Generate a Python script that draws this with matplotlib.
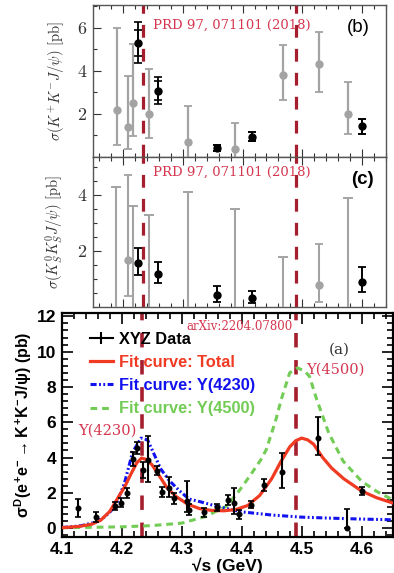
import numpy as np
import matplotlib
matplotlib.use('Agg')
import matplotlib.pyplot as plt
from matplotlib.ticker import MultipleLocator, FixedLocator, FixedFormatter
from matplotlib.lines import Line2D

plt.rcParams['mathtext.fontset'] = 'cm'
plt.rcParams['mathtext.rm'] = 'Liberation Sans:bold'
plt.rcParams['mathtext.it'] = 'Liberation Sans:bold'
plt.rcParams['mathtext.bf'] = 'Liberation Sans:bold'
plt.rcParams['mathtext.sf'] = 'Liberation Sans:bold'

# ---- panel (b): K+K- J/psi, PRD 97 071101 ----
b_gray_x = [4.190, 4.208, 4.217, 4.243, 4.308, 4.388, 4.467, 4.528, 4.576]
b_gray_y = [2.2, 1.4, 2.5, 2.0, 0.7, 0.37, 3.8, 4.3, 2.0]
b_gray_lo = [1.64, 1.03, 1.52, 1.1, 0.8, 0.5, 1.15, 1.27, 0.93]
b_gray_hi = [3.8, 2.37, 2.74, 2.08, 1.69, 1.23, 1.4, 1.5, 1.5]
b_black_x = [4.226, 4.258, 4.358, 4.416, 4.600]
b_black_y = [5.29, 3.08, 0.42, 0.95, 1.42]
b_black_lo = [0.93, 0.61, 0.14, 0.2, 0.35]
b_black_hi = [0.96, 0.62, 0.14, 0.22, 0.36]
b_stat_lo = [0.59, 0.43, 0.14, 0.2, 0.35]
b_stat_hi = [0.61, 0.47, 0.14, 0.22, 0.36]

# ---- panel (c): KS KS J/psi ----
c_gray_x = [4.208, 4.528]
c_gray_y = [1.7, 0.8]
c_gray_lo = [1.29, 0.6]
c_gray_hi = [3.0, 1.44]
c_lim_x = [4.189, 4.217, 4.243, 4.308, 4.388, 4.467, 4.576]
c_lim_top = [4.3, 3.6, 3.28, 4.1, 3.49, 1.79, 3.88]
c_black_x = [4.226, 4.258, 4.358, 4.416, 4.600]
c_black_y = [1.58, 1.19, 0.43, 0.32, 0.91]
c_black_lo = [0.42, 0.34, 0.23, 0.18, 0.38]
c_black_hi = [0.54, 0.41, 0.34, 0.24, 0.52]

# ---- panel (a): XYZ data + fit ----
a_x = [4.127, 4.157, 4.189, 4.199, 4.209, 4.219, 4.226, 4.236, 4.244, 4.258, 4.267, 4.278, 4.287,
       4.308, 4.312, 4.337, 4.358, 4.377, 4.387, 4.396, 4.416, 4.437, 4.467, 4.527, 4.575, 4.600]
a_y = [1.13, 0.62, 1.25, 1.45, 2.0, 3.9, 4.55, 3.3, 3.85, 3.25, 2.05, 2.3, 1.68,
       1.52, 1.05, 0.9, 1.18, 1.58, 1.42, 0.77, 1.33, 2.45, 3.2, 5.1, 0.03, 2.1]
a_lo = [0.5, 0.28, 0.25, 0.25, 0.3, 0.4, 0.35, 0.45, 1.25, 0.25, 0.3, 0.55, 0.3,
        0.6, 0.3, 0.25, 0.2, 0.3, 0.6, 0.25, 0.2, 0.35, 0.9, 0.95, 0.0, 0.25]
a_hi = [0.5, 0.28, 0.25, 0.25, 0.3, 0.4, 0.35, 0.45, 1.35, 0.25, 0.3, 0.6, 0.3,
        1.13, 0.3, 0.25, 0.2, 0.3, 0.85, 0.25, 0.2, 0.35, 1.07, 1.2, 1.05, 0.25]

red_x = [4.10, 4.13, 4.15, 4.165, 4.18, 4.195, 4.205, 4.215, 4.225, 4.233, 4.24, 4.25, 4.26,
         4.275, 4.29, 4.31, 4.33, 4.35, 4.37, 4.39, 4.41, 4.43, 4.45, 4.465, 4.48, 4.49, 4.5,
         4.51, 4.52, 4.535, 4.55, 4.57, 4.6, 4.625, 4.652]
red_y = [0.02, 0.1, 0.22, 0.45, 0.95, 1.8, 2.35, 3.05, 3.7, 3.97, 3.9, 3.6, 3.1,
         2.3, 1.8, 1.35, 1.1, 1.0, 0.98, 1.05, 1.28, 1.85, 2.8, 3.75, 4.6, 4.95, 5.1,
         5.0, 4.75, 4.0, 3.4, 2.8, 2.1, 1.72, 1.42]
blue_x = [4.10, 4.13, 4.155, 4.17, 4.18, 4.19, 4.204, 4.218, 4.232, 4.243, 4.251, 4.265, 4.279,
          4.296, 4.312, 4.33, 4.36, 4.4, 4.45, 4.5, 4.55, 4.6, 4.652]
blue_y = [0.03, 0.12, 0.32, 0.6, 0.9, 1.3, 2.5, 4.3, 5.1, 5.0, 4.4, 3.35, 2.7,
          2.12, 1.65, 1.5, 1.22, 0.92, 0.74, 0.62, 0.56, 0.51, 0.47]
green_x = [4.10, 4.2, 4.25, 4.3, 4.34, 4.374, 4.393, 4.413, 4.432, 4.441, 4.457, 4.466, 4.48,
           4.493, 4.505, 4.513, 4.525, 4.545, 4.569, 4.6, 4.625, 4.652]
green_y = [0.02, 0.07, 0.14, 0.28, 0.66, 1.23, 1.99, 2.93, 3.88, 4.45, 6.15, 7.3, 8.8,
           9.08, 8.9, 8.6, 7.3, 5.4, 3.8, 2.65, 2.08, 1.6]

vline_x = [4.234, 4.490]
legend_labels = ['XYZ Data', 'Fit curve: Total', 'Fit curve: Y(4230)', 'Fit curve: Y(4500)']

DASHRED = '#a51e2d'
CRIMSON = '#d4364f'
GRAY = '#a3a3a3'
RED = '#f03a22'
BLUE = '#1212ee'
GREEN = '#72cc55'

fig = plt.figure(figsize=(3.94, 5.73), dpi=100)
ax_b = fig.add_axes([0.236, 0.726, 0.744, 0.265])
ax_c = fig.add_axes([0.236, 0.464, 0.744, 0.262])
ax_a = fig.add_axes([0.157, 0.063, 0.84, 0.391])


def style_top(ax, ymax, yticks):
    ax.set_xlim(4.15, 4.64)
    ax.set_ylim(0, ymax)
    ax.xaxis.set_major_locator(MultipleLocator(0.1))
    ax.xaxis.set_minor_locator(MultipleLocator(0.02))
    ax.set_xticklabels([])
    ax.yaxis.set_major_locator(FixedLocator(yticks))
    ax.yaxis.set_major_formatter(FixedFormatter([str(t) for t in yticks]))
    ax.tick_params(which='both', direction='in', top=True, right=False, labelsize=13, colors='#333333')
    ax.tick_params(which='major', length=6, width=0.8, pad=5)
    ax.tick_params(which='minor', length=3, width=0.8)
    for lab in ax.get_yticklabels():
        lab.set_family('cmr10')
    for s in ax.spines.values():
        s.set_color('#555555')
        s.set_linewidth(1.0)
    for x in vline_x:
        ax.axvline(x, color=DASHRED, lw=2.3, ls=(0, (4, 3.5)), zorder=1)


# panel (b)
style_top(ax_b, 7.05, [2, 4, 6])
ax_b.yaxis.set_minor_locator(MultipleLocator(1))
ax_b.errorbar(b_gray_x, b_gray_y, yerr=[b_gray_lo, b_gray_hi], fmt='o', color=GRAY, ms=5,
              capsize=3, elinewidth=1.6, capthick=1.3, zorder=3)
ax_b.errorbar(b_black_x, b_black_y, yerr=[b_black_lo, b_black_hi], fmt='o', color='black', ms=5,
              capsize=3, elinewidth=1.3, capthick=1.2, zorder=4)
ax_b.errorbar(b_black_x, b_black_y, yerr=[b_stat_lo, b_stat_hi], fmt='none', ecolor='black',
              capsize=3, elinewidth=1.3, capthick=1.2, zorder=4)
ax_b.set_ylabel(r'$\sigma(K^{+}K^{-}J/\psi)\ \mathrm{[pb]}$', fontsize=10.5, color='#333333', labelpad=8)
ax_b.text(0.205, 0.87, 'PRD 97, 071101 (2018)', transform=ax_b.transAxes, color=CRIMSON,
          fontsize=9.5, family='DejaVu Serif', va='center')
ax_b.text(0.905, 0.855, '(b)', transform=ax_b.transAxes, fontsize=13.5, ha='center', va='center',
          family='Liberation Sans')

# panel (c)
style_top(ax_c, 5.36, [2, 4])
ax_c.yaxis.set_minor_locator(MultipleLocator(0.5))
ax_c.vlines(c_lim_x, 0, c_lim_top, color=GRAY, lw=1.5, zorder=3)
ax_c.plot(c_lim_x, c_lim_top, '_', color=GRAY, ms=7, mew=1.4, zorder=3)
ax_c.errorbar(c_gray_x, c_gray_y, yerr=[c_gray_lo, c_gray_hi], fmt='o', color=GRAY, ms=5,
              capsize=3, elinewidth=1.5, capthick=1.3, zorder=3)
ax_c.errorbar(c_black_x, c_black_y, yerr=[c_black_lo, c_black_hi], fmt='o', color='black', ms=5,
              capsize=3, elinewidth=1.4, capthick=1.3, zorder=4)
ax_c.set_ylabel(r'$\sigma(K_{S}^{0}K_{S}^{0}J/\psi)\ \mathrm{[pb]}$', fontsize=10.5, color='#333333',
                labelpad=8)
ax_c.text(0.205, 0.90, 'PRD 97, 071101 (2018)', transform=ax_c.transAxes, color=CRIMSON,
          fontsize=9.5, family='DejaVu Serif', va='center')
ax_c.text(0.92, 0.85, '(c)', transform=ax_c.transAxes, fontsize=13.5, ha='center', va='center',
          family='Liberation Sans', weight='bold')

# panel (a)
ax_a.set_xlim(4.1, 4.652)
ax_a.set_ylim(-0.5, 12.2)
ax_a.xaxis.set_major_locator(MultipleLocator(0.1))
ax_a.xaxis.set_minor_locator(MultipleLocator(0.02))
ax_a.yaxis.set_major_locator(MultipleLocator(2))
ax_a.yaxis.set_minor_locator(MultipleLocator(0.4))
ax_a.tick_params(which='both', direction='in', top=True, right=True, width=1.2)
ax_a.tick_params(which='major', length=8, labelsize=12.5, pad=4)
ax_a.tick_params(which='minor', length=4)
for lab in ax_a.get_xticklabels() + ax_a.get_yticklabels():
    lab.set_family('Liberation Sans')
    lab.set_weight('bold')
for s in ax_a.spines.values():
    s.set_linewidth(1.6)

for x in vline_x:
    ax_a.axvline(x, color=DASHRED, lw=2.6, ls=(0, (4, 3.5)), zorder=1)
ax_a.plot(green_x, green_y, color=GREEN, lw=2.2, ls=(0, (2.2, 1.6)), zorder=2)
ax_a.plot(blue_x, blue_y, color=BLUE, lw=2.2, ls=(0, (2.0, 0.8, 0.6, 0.8, 0.6, 0.8)), zorder=2)
ax_a.plot(red_x, red_y, color=RED, lw=2.3, zorder=3)
ax_a.errorbar(a_x, a_y, yerr=[a_lo, a_hi], fmt='o', color='black', ms=3.3, capsize=2,
              elinewidth=1.5, capthick=1.2, zorder=4)

ax_a.set_xlabel('√s (GeV)', fontsize=12.5, weight='bold', family=['Liberation Sans', 'DejaVu Sans'],
                labelpad=0)
ax_a.set_ylabel(r'$\sigma^{D}(e^{+}e^{-}\rightarrow K^{+}K^{-}J/\psi)$ (pb)', fontsize=11.5,
                weight='bold', family='Liberation Sans', math_fontfamily='custom', labelpad=2)

ax_a.text(4.485, 11.44, 'arXiv:2204.07800', color=CRIMSON, fontsize=8.5, family='DejaVu Serif',
          ha='right', va='center')
ax_a.text(4.563, 10.14, '(a)', color='#333333', fontsize=11, family='DejaVu Serif', ha='center',
          va='center')
ax_a.text(4.508, 9.0, 'Y(4500)', color=CRIMSON, fontsize=10.5, family='DejaVu Serif', va='center')
ax_a.text(4.128, 5.55, 'Y(4230)', color=CRIMSON, fontsize=10.5, family='DejaVu Serif', va='center')

handles = [
    Line2D([], [], color='black', lw=1.5, marker='|', ms=9, mew=1.5),
    Line2D([], [], color=RED, lw=2.3),
    Line2D([], [], color=BLUE, lw=2.2, ls=(0, (2.0, 0.8, 0.6, 0.8, 0.6, 0.8))),
    Line2D([], [], color=GREEN, lw=2.2, ls=(0, (2.2, 1.6))),
]
leg = ax_a.legend(handles, legend_labels, loc='upper left', bbox_to_anchor=(0.065, 0.945),
                  frameon=False, prop={'family': 'Liberation Sans', 'weight': 'bold', 'size': 11.8},
                  handlelength=1.4, handletextpad=0.35, labelspacing=0.5, borderaxespad=0)
for t, c in zip(leg.get_texts(), ['black', RED, BLUE, GREEN]):
    t.set_color(c)

fig.savefig('out.png', dpi=100)
